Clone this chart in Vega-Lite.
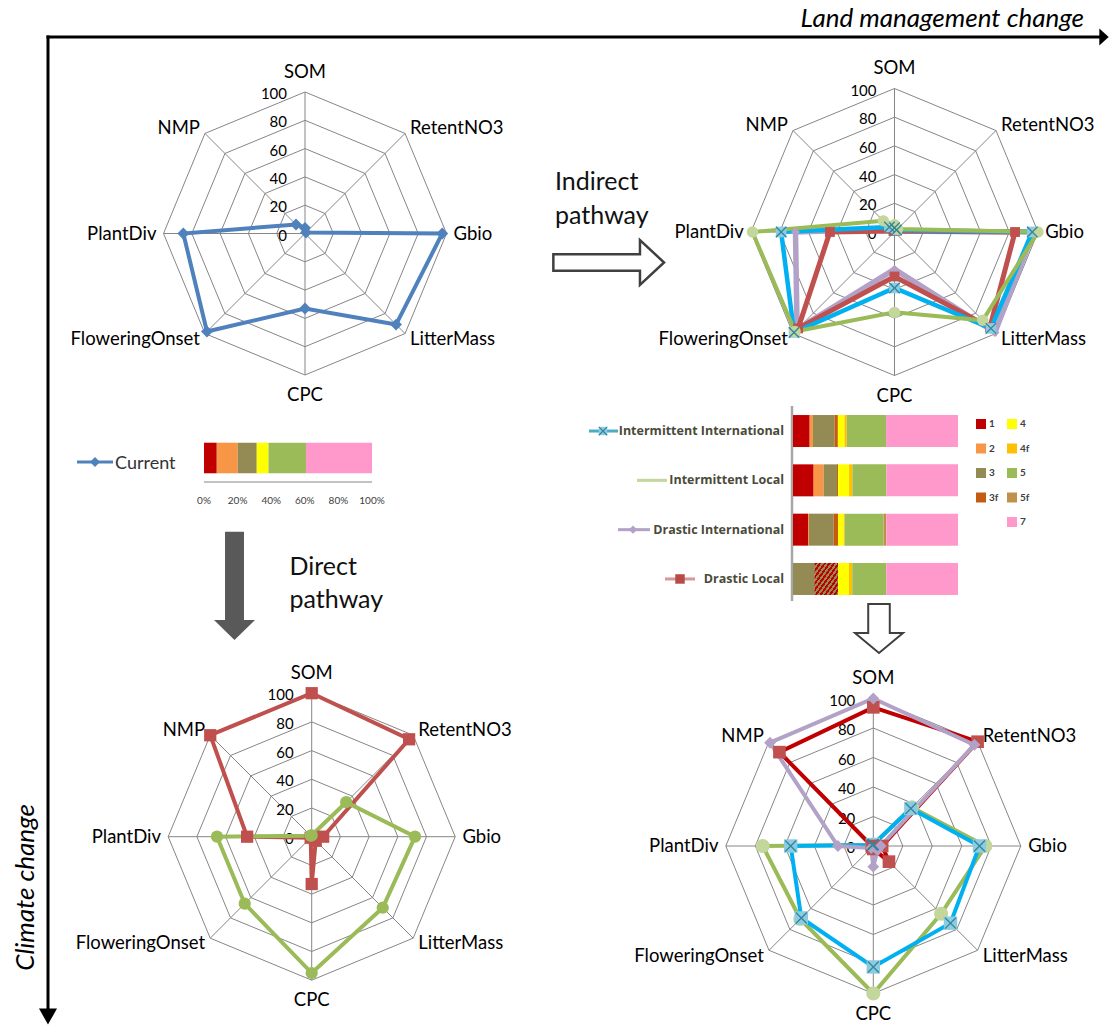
{
"$schema": "https://vega.github.io/schema/vega-lite/v6.json",
"width": 1110, "height": 1026,
"padding": 0,
"autosize": {"type": "none"},
"background": "white",
"config": {"view": {"stroke": null}, "font": "Lato"},
"datasets": {
"axes": [{"axis":"SOM"},{"axis":"RetentNO3"},{"axis":"Gbio"},{"axis":"LitterMass"},{"axis":"CPC"},{"axis":"FloweringOnset"},{"axis":"PlantDiv"},{"axis":"NMP"}],
"grid": [{"ring":[20,40,60,80,100],"axis":["SOM","RetentNO3","Gbio","LitterMass","CPC","FloweringOnset","PlantDiv","NMP"]}],
"ticks": [{"tick":0},{"tick":20},{"tick":40},{"tick":60},{"tick":80},{"tick":100}],
"curTicks": [{"t":0},{"t":0.2},{"t":0.4},{"t":0.6},{"t":0.8},{"t":1}],
"seriesNames": [{"series":"Intermittent International"},{"series":"Intermittent Local"},{"series":"Drastic International"},{"series":"Drastic Local"}],
"current": [
{"series":"Current","cat":"1","pct":7.6},{"series":"Current","cat":"2","pct":12.5},{"series":"Current","cat":"3","pct":11.3},{"series":"Current","cat":"4","pct":7.0},{"series":"Current","cat":"5","pct":22.3},{"series":"Current","cat":"7","pct":39.3}],
"bars": [
{"series":"Intermittent International","cat":"1","pct":10.1},{"series":"Intermittent International","cat":"2","pct":2.0},{"series":"Intermittent International","cat":"3","pct":13.1},{"series":"Intermittent International","cat":"3f","pct":2.0},{"series":"Intermittent International","cat":"4","pct":4.0},{"series":"Intermittent International","cat":"4f","pct":1.4},{"series":"Intermittent International","cat":"5","pct":23.8},{"series":"Intermittent International","cat":"7","pct":43.6},
{"series":"Intermittent Local","cat":"1","pct":12.5},{"series":"Intermittent Local","cat":"2","pct":6.1},{"series":"Intermittent Local","cat":"3","pct":8.1},{"series":"Intermittent Local","cat":"3f","pct":0.6},{"series":"Intermittent Local","cat":"4","pct":6.7},{"series":"Intermittent Local","cat":"4f","pct":2.0},{"series":"Intermittent Local","cat":"5","pct":20.6},{"series":"Intermittent Local","cat":"7","pct":43.4},
{"series":"Drastic International","cat":"1","pct":9.1},{"series":"Drastic International","cat":"2","pct":0.6},{"series":"Drastic International","cat":"3","pct":15.0},{"series":"Drastic International","cat":"3f","pct":2.6},{"series":"Drastic International","cat":"4","pct":3.4},{"series":"Drastic International","cat":"4f","pct":0.6},{"series":"Drastic International","cat":"5","pct":23.6},{"series":"Drastic International","cat":"5f","pct":1.6},{"series":"Drastic International","cat":"7","pct":43.5},
{"series":"Drastic Local","cat":"3","pct":13.1},{"series":"Drastic Local","cat":"hatch","pct":14.1},{"series":"Drastic Local","cat":"4","pct":6.7},{"series":"Drastic Local","cat":"4f","pct":2.0},{"series":"Drastic Local","cat":"5","pct":20.6},{"series":"Drastic Local","cat":"7","pct":43.5}],
"radar": [
{"panel":"TL","series":"Current","axis":"SOM","value":4},{"panel":"TL","series":"Current","axis":"RetentNO3","value":1},{"panel":"TL","series":"Current","axis":"Gbio","value":97},{"panel":"TL","series":"Current","axis":"LitterMass","value":91},{"panel":"TL","series":"Current","axis":"CPC","value":53},{"panel":"TL","series":"Current","axis":"FloweringOnset","value":98},{"panel":"TL","series":"Current","axis":"PlantDiv","value":86},{"panel":"TL","series":"Current","axis":"NMP","value":9},
{"panel":"TR","series":"Drastic International","axis":"SOM","value":2},{"panel":"TR","series":"Drastic International","axis":"RetentNO3","value":1},{"panel":"TR","series":"Drastic International","axis":"Gbio","value":97},{"panel":"TR","series":"Drastic International","axis":"LitterMass","value":99},{"panel":"TR","series":"Drastic International","axis":"CPC","value":26},{"panel":"TR","series":"Drastic International","axis":"FloweringOnset","value":96},{"panel":"TR","series":"Drastic International","axis":"PlantDiv","value":69},{"panel":"TR","series":"Drastic International","axis":"NMP","value":3},
{"panel":"TR","series":"Drastic Local","axis":"SOM","value":2},{"panel":"TR","series":"Drastic Local","axis":"RetentNO3","value":1},{"panel":"TR","series":"Drastic Local","axis":"Gbio","value":84},{"panel":"TR","series":"Drastic Local","axis":"LitterMass","value":94},{"panel":"TR","series":"Drastic Local","axis":"CPC","value":31},{"panel":"TR","series":"Drastic Local","axis":"FloweringOnset","value":95},{"panel":"TR","series":"Drastic Local","axis":"PlantDiv","value":45},{"panel":"TR","series":"Drastic Local","axis":"NMP","value":1},
{"panel":"TR","series":"Intermittent International","axis":"SOM","value":3},{"panel":"TR","series":"Intermittent International","axis":"RetentNO3","value":2},{"panel":"TR","series":"Intermittent International","axis":"Gbio","value":96},{"panel":"TR","series":"Intermittent International","axis":"LitterMass","value":95},{"panel":"TR","series":"Intermittent International","axis":"CPC","value":39},{"panel":"TR","series":"Intermittent International","axis":"FloweringOnset","value":99},{"panel":"TR","series":"Intermittent International","axis":"PlantDiv","value":79},{"panel":"TR","series":"Intermittent International","axis":"NMP","value":5},
{"panel":"TR","series":"Intermittent Local","axis":"SOM","value":5},{"panel":"TR","series":"Intermittent Local","axis":"RetentNO3","value":3},{"panel":"TR","series":"Intermittent Local","axis":"Gbio","value":100},{"panel":"TR","series":"Intermittent Local","axis":"LitterMass","value":87},{"panel":"TR","series":"Intermittent Local","axis":"CPC","value":56},{"panel":"TR","series":"Intermittent Local","axis":"FloweringOnset","value":98},{"panel":"TR","series":"Intermittent Local","axis":"PlantDiv","value":99},{"panel":"TR","series":"Intermittent Local","axis":"NMP","value":11},
{"panel":"BL","series":"Scenario 1","axis":"SOM","value":100},{"panel":"BL","series":"Scenario 1","axis":"RetentNO3","value":96},{"panel":"BL","series":"Scenario 1","axis":"Gbio","value":8},{"panel":"BL","series":"Scenario 1","axis":"LitterMass","value":4},{"panel":"BL","series":"Scenario 1","axis":"CPC","value":33},{"panel":"BL","series":"Scenario 1","axis":"FloweringOnset","value":1},{"panel":"BL","series":"Scenario 1","axis":"PlantDiv","value":45},{"panel":"BL","series":"Scenario 1","axis":"NMP","value":100},
{"panel":"BL","series":"Scenario 2","axis":"SOM","value":1},{"panel":"BL","series":"Scenario 2","axis":"RetentNO3","value":34},{"panel":"BL","series":"Scenario 2","axis":"Gbio","value":72},{"panel":"BL","series":"Scenario 2","axis":"LitterMass","value":70},{"panel":"BL","series":"Scenario 2","axis":"CPC","value":95},{"panel":"BL","series":"Scenario 2","axis":"FloweringOnset","value":66},{"panel":"BL","series":"Scenario 2","axis":"PlantDiv","value":66},{"panel":"BL","series":"Scenario 2","axis":"NMP","value":1},
{"panel":"BR","series":"Intermittent Local","axis":"SOM","value":1},{"panel":"BR","series":"Intermittent Local","axis":"RetentNO3","value":37},{"panel":"BR","series":"Intermittent Local","axis":"Gbio","value":76},{"panel":"BR","series":"Intermittent Local","axis":"LitterMass","value":65},{"panel":"BR","series":"Intermittent Local","axis":"CPC","value":100},{"panel":"BR","series":"Intermittent Local","axis":"FloweringOnset","value":70},{"panel":"BR","series":"Intermittent Local","axis":"PlantDiv","value":75},{"panel":"BR","series":"Intermittent Local","axis":"NMP","value":1},
{"panel":"BR","series":"Intermittent International","axis":"SOM","value":1},{"panel":"BR","series":"Intermittent International","axis":"RetentNO3","value":36},{"panel":"BR","series":"Intermittent International","axis":"Gbio","value":72},{"panel":"BR","series":"Intermittent International","axis":"LitterMass","value":74},{"panel":"BR","series":"Intermittent International","axis":"CPC","value":82},{"panel":"BR","series":"Intermittent International","axis":"FloweringOnset","value":69},{"panel":"BR","series":"Intermittent International","axis":"PlantDiv","value":56},{"panel":"BR","series":"Intermittent International","axis":"NMP","value":1},
{"panel":"BR","series":"Drastic Local","axis":"SOM","value":94},{"panel":"BR","series":"Drastic Local","axis":"RetentNO3","value":100},{"panel":"BR","series":"Drastic Local","axis":"Gbio","value":6},{"panel":"BR","series":"Drastic Local","axis":"LitterMass","value":15},{"panel":"BR","series":"Drastic Local","axis":"CPC","value":2},{"panel":"BR","series":"Drastic Local","axis":"FloweringOnset","value":1},{"panel":"BR","series":"Drastic Local","axis":"PlantDiv","value":1},{"panel":"BR","series":"Drastic Local","axis":"NMP","value":90},
{"panel":"BR","series":"Drastic International","axis":"SOM","value":100},{"panel":"BR","series":"Drastic International","axis":"RetentNO3","value":97},{"panel":"BR","series":"Drastic International","axis":"Gbio","value":5},{"panel":"BR","series":"Drastic International","axis":"LitterMass","value":4},{"panel":"BR","series":"Drastic International","axis":"CPC","value":14},{"panel":"BR","series":"Drastic International","axis":"FloweringOnset","value":2},{"panel":"BR","series":"Drastic International","axis":"PlantDiv","value":24},{"panel":"BR","series":"Drastic International","axis":"NMP","value":99}
]
},
"resolve": {"scale": {"x": "independent", "y": "independent", "color": "independent", "fill": "independent", "stroke": "independent", "strokeWidth": "independent", "shape": "independent", "size": "independent"}},
"layer": [
{
"data": {"values": [{}]},
"layer": [
{"mark": {"type": "rule", "color": "#000000", "strokeWidth": 3},
 "encoding": {"x": {"datum": 46.5, "scale": {"domain": [0, 1110], "range": [0, 1110], "nice": false, "zero": false}, "axis": null}, "x2": {"datum": 1100},
   "y": {"datum": 37, "scale": {"domain": [0, 1026], "range": [0, 1026], "nice": false, "zero": false}, "axis": null}}},
{"mark": {"type": "rule", "color": "#000000", "strokeWidth": 3},
 "encoding": {"x": {"datum": 48}, "y": {"datum": 35.5}, "y2": {"datum": 1010}}},
{"mark": {"type": "point", "shape": "M-0.55,-1L0.55,0L-0.55,1Z", "filled": true, "color": "#000000", "size": 289, "opacity": 1},
 "encoding": {"x": {"datum": 1104}, "y": {"datum": 37}}},
{"mark": {"type": "point", "shape": "M-1,-0.9L1,-0.9L0,0.9Z", "filled": true, "color": "#000000", "size": 324, "opacity": 1},
 "encoding": {"x": {"datum": 48}, "y": {"datum": 1016.5}}},
{"mark": {"type": "text", "align": "right", "baseline": "alphabetic", "font": "Lato", "fontStyle": "italic", "fontSize": 26, "color": "#000000"},
 "encoding": {"x": {"datum": 1084}, "y": {"datum": 27}, "text": {"value": "Land management change"}}},
{"mark": {"type": "text", "angle": 270, "align": "center", "baseline": "alphabetic", "font": "Lato", "fontStyle": "italic", "fontSize": 26, "color": "#000000"},
 "encoding": {"x": {"datum": 33.5}, "y": {"datum": 887.5}, "text": {"value": "Climate change"}}},
{"mark": {"type": "point", "shape": "M-1,-0.15L0.565,-0.15L0.565,-0.406L1,0L0.565,0.406L0.565,0.15L-1,0.15Z", "filled": false, "color": "#404040", "strokeWidth": 2.5, "size": 12254, "opacity": 1},
 "encoding": {"x": {"datum": 608.7}, "y": {"datum": 262.5}}},
{"mark": {"type": "text", "align": "left", "baseline": "alphabetic", "font": "Lato", "fontSize": 25, "color": "#111111"},
 "encoding": {"x": {"datum": 555}, "y": {"datum": 190}, "text": {"value": "Indirect"}}},
{"mark": {"type": "text", "align": "left", "baseline": "alphabetic", "font": "Lato", "fontSize": 25, "color": "#111111"},
 "encoding": {"x": {"datum": 555}, "y": {"datum": 224}, "text": {"value": "pathway"}}},
{"mark": {"type": "rule", "color": "#4F81BD", "strokeWidth": 3},
 "encoding": {"x": {"datum": 77}, "x2": {"datum": 113}, "y": {"datum": 462}}},
{"mark": {"type": "point", "shape": "diamond", "filled": true, "color": "#4F81BD", "size": 100, "opacity": 1},
 "encoding": {"x": {"datum": 95}, "y": {"datum": 462}}},
{"mark": {"type": "text", "align": "left", "baseline": "alphabetic", "font": "Lato", "fontSize": 18, "color": "#333333"},
 "encoding": {"x": {"datum": 115}, "y": {"datum": 468.5}, "text": {"value": "Current"}}},
{"mark": {"type": "point", "shape": "M-0.175,-1L0.175,-1L0.175,0.631L0.379,0.631L0,1L-0.379,0.631L-0.175,0.631Z", "filled": true, "color": "#595959", "size": 11729, "opacity": 1, "strokeWidth": 0},
 "encoding": {"x": {"datum": 234.5}, "y": {"datum": 585.85}}},
{"mark": {"type": "text", "align": "left", "baseline": "alphabetic", "font": "Lato", "fontSize": 25, "color": "#111111"},
 "encoding": {"x": {"datum": 289.5}, "y": {"datum": 575}, "text": {"value": "Direct"}}},
{"mark": {"type": "text", "align": "left", "baseline": "alphabetic", "font": "Lato", "fontSize": 25, "color": "#111111"},
 "encoding": {"x": {"datum": 289.5}, "y": {"datum": 607.5}, "text": {"value": "pathway"}}},
{"mark": {"type": "rule", "color": "#A6A6A6", "strokeWidth": 2.5},
 "encoding": {"x": {"datum": 792}, "y": {"datum": 406}, "y2": {"datum": 601}}},
{"mark": {"type": "point", "shape": "M-0.44,-1L0.44,-1L0.44,0.18L0.98,0.18L0,1L-0.98,0.18L-0.44,0.18Z", "filled": false, "color": "#404040", "strokeWidth": 2, "size": 2401, "opacity": 1},
 "encoding": {"x": {"datum": 879}, "y": {"datum": 628.5}}}
]
},
{
"layer": [
{"data": {"name": "grid"},
 "transform": [{"flatten": ["ring"]}, {"flatten": ["axis"]}, {"calculate": "indexof(['SOM','RetentNO3','Gbio','LitterMass','CPC','FloweringOnset','PlantDiv','NMP'], datum.axis)", "as": "idx"}, {"calculate": "datum.ring*sin(datum.idx*PI/4)", "as": "px"}, {"calculate": "datum.ring*cos(datum.idx*PI/4)", "as": "py"}],
 "mark": {"type": "line", "interpolate": "linear-closed", "color": "#868686", "strokeWidth": 1},
 "encoding": {"x": {"field": "px", "type": "quantitative", "scale": {"domain": [-100, 100], "range": [163.5, 446.5], "nice": false, "zero": false}, "axis": null},
   "y": {"field": "py", "type": "quantitative", "scale": {"domain": [-100, 100], "range": [375, 92], "nice": false, "zero": false}, "axis": null},
   "detail": {"field": "ring", "type": "nominal"}, "order": {"field": "idx", "type": "quantitative"}}},
{"data": {"name": "axes"},
 "transform": [{"calculate": "indexof(['SOM','RetentNO3','Gbio','LitterMass','CPC','FloweringOnset','PlantDiv','NMP'], datum.axis)", "as": "idx"}, {"calculate": "100*sin(datum.idx*PI/4)", "as": "px"}, {"calculate": "100*cos(datum.idx*PI/4)", "as": "py"}],
 "mark": {"type": "rule", "color": "#868686", "strokeWidth": 1},
 "encoding": {"x": {"field": "px", "type": "quantitative"}, "y": {"field": "py", "type": "quantitative"}, "x2": {"datum": 0}, "y2": {"datum": 0}}},
{"data": {"name": "ticks"},
 "mark": {"type": "text", "align": "right", "baseline": "middle", "dx": -18, "dy": 2, "font": "Lato", "fontSize": 15, "color": "#000000"},
 "encoding": {"x": {"datum": 0}, "y": {"field": "tick", "type": "quantitative"}, "text": {"field": "tick", "type": "quantitative"}}},
{"data": {"name": "axes"},
 "transform": [{"calculate": "indexof(['SOM','RetentNO3','Gbio','LitterMass','CPC','FloweringOnset','PlantDiv','NMP'], datum.axis)", "as": "idx"}, {"filter": "datum.idx == 0 || datum.idx == 4"}, {"calculate": "114*sin(datum.idx*PI/4)", "as": "lx"}, {"calculate": "114*cos(datum.idx*PI/4)", "as": "ly"}],
 "mark": {"type": "text", "align": "center", "baseline": "middle", "font": "Lato", "fontSize": 18.5, "color": "#000000"},
 "encoding": {"x": {"field": "lx", "type": "quantitative"}, "y": {"field": "ly", "type": "quantitative"}, "text": {"field": "axis", "type": "nominal"}}},
{"data": {"name": "axes"},
 "transform": [{"calculate": "indexof(['SOM','RetentNO3','Gbio','LitterMass','CPC','FloweringOnset','PlantDiv','NMP'], datum.axis)", "as": "idx"}, {"filter": "datum.idx >= 1 && datum.idx <= 3"}, {"calculate": "105*sin(datum.idx*PI/4)", "as": "lx"}, {"calculate": "105*cos(datum.idx*PI/4)", "as": "ly"}],
 "mark": {"type": "text", "align": "left", "baseline": "middle", "font": "Lato", "fontSize": 18.5, "color": "#000000"},
 "encoding": {"x": {"field": "lx", "type": "quantitative"}, "y": {"field": "ly", "type": "quantitative"}, "text": {"field": "axis", "type": "nominal"}}},
{"data": {"name": "axes"},
 "transform": [{"calculate": "indexof(['SOM','RetentNO3','Gbio','LitterMass','CPC','FloweringOnset','PlantDiv','NMP'], datum.axis)", "as": "idx"}, {"filter": "datum.idx >= 5"}, {"calculate": "105*sin(datum.idx*PI/4)", "as": "lx"}, {"calculate": "105*cos(datum.idx*PI/4)", "as": "ly"}],
 "mark": {"type": "text", "align": "right", "baseline": "middle", "font": "Lato", "fontSize": 18.5, "color": "#000000"},
 "encoding": {"x": {"field": "lx", "type": "quantitative"}, "y": {"field": "ly", "type": "quantitative"}, "text": {"field": "axis", "type": "nominal"}}},
{"data": {"name": "radar"},
 "transform": [{"filter": "datum.panel == 'TL'"}, {"calculate": "indexof(['SOM','RetentNO3','Gbio','LitterMass','CPC','FloweringOnset','PlantDiv','NMP'], datum.axis)", "as": "idx"}, {"calculate": "datum.value*sin(datum.idx*PI/4)", "as": "px"}, {"calculate": "datum.value*cos(datum.idx*PI/4)", "as": "py"}],
 "mark": {"type": "line", "interpolate": "linear-closed", "strokeWidth": 4, "color": "#4F81BD"},
 "encoding": {"x": {"field": "px", "type": "quantitative"}, "y": {"field": "py", "type": "quantitative"},
   "detail": {"field": "series", "type": "nominal"},
   "order": {"field": "idx", "type": "quantitative"}}},
{"data": {"name": "radar"},
 "transform": [{"filter": "datum.panel == 'TL'"}, {"calculate": "indexof(['SOM','RetentNO3','Gbio','LitterMass','CPC','FloweringOnset','PlantDiv','NMP'], datum.axis)", "as": "idx"}, {"calculate": "datum.value*sin(datum.idx*PI/4)", "as": "px"}, {"calculate": "datum.value*cos(datum.idx*PI/4)", "as": "py"}],
 "mark": {"type": "point", "shape": "diamond", "filled": true, "size": 140, "opacity": 1, "color": "#4F81BD"},
 "encoding": {"x": {"field": "px", "type": "quantitative"}, "y": {"field": "py", "type": "quantitative"}}}
]
},
{
"layer": [
{"data": {"name": "grid"},
 "transform": [{"flatten": ["ring"]}, {"flatten": ["axis"]}, {"calculate": "indexof(['SOM','RetentNO3','Gbio','LitterMass','CPC','FloweringOnset','PlantDiv','NMP'], datum.axis)", "as": "idx"}, {"calculate": "datum.ring*sin(datum.idx*PI/4)", "as": "px"}, {"calculate": "datum.ring*cos(datum.idx*PI/4)", "as": "py"}],
 "mark": {"type": "line", "interpolate": "linear-closed", "color": "#868686", "strokeWidth": 1},
 "encoding": {"x": {"field": "px", "type": "quantitative", "scale": {"domain": [-100, 100], "range": [751, 1038], "nice": false, "zero": false}, "axis": null},
   "y": {"field": "py", "type": "quantitative", "scale": {"domain": [-100, 100], "range": [375.5, 88.5], "nice": false, "zero": false}, "axis": null},
   "detail": {"field": "ring", "type": "nominal"}, "order": {"field": "idx", "type": "quantitative"}}},
{"data": {"name": "axes"},
 "transform": [{"calculate": "indexof(['SOM','RetentNO3','Gbio','LitterMass','CPC','FloweringOnset','PlantDiv','NMP'], datum.axis)", "as": "idx"}, {"calculate": "100*sin(datum.idx*PI/4)", "as": "px"}, {"calculate": "100*cos(datum.idx*PI/4)", "as": "py"}],
 "mark": {"type": "rule", "color": "#868686", "strokeWidth": 1},
 "encoding": {"x": {"field": "px", "type": "quantitative"}, "y": {"field": "py", "type": "quantitative"}, "x2": {"datum": 0}, "y2": {"datum": 0}}},
{"data": {"name": "ticks"},
 "mark": {"type": "text", "align": "right", "baseline": "middle", "dx": -18, "dy": 2, "font": "Lato", "fontSize": 15, "color": "#000000"},
 "encoding": {"x": {"datum": 0}, "y": {"field": "tick", "type": "quantitative"}, "text": {"field": "tick", "type": "quantitative"}}},
{"data": {"name": "axes"},
 "transform": [{"calculate": "indexof(['SOM','RetentNO3','Gbio','LitterMass','CPC','FloweringOnset','PlantDiv','NMP'], datum.axis)", "as": "idx"}, {"filter": "datum.idx == 0 || datum.idx == 4"}, {"calculate": "114*sin(datum.idx*PI/4)", "as": "lx"}, {"calculate": "114*cos(datum.idx*PI/4)", "as": "ly"}],
 "mark": {"type": "text", "align": "center", "baseline": "middle", "font": "Lato", "fontSize": 18.5, "color": "#000000"},
 "encoding": {"x": {"field": "lx", "type": "quantitative"}, "y": {"field": "ly", "type": "quantitative"}, "text": {"field": "axis", "type": "nominal"}}},
{"data": {"name": "axes"},
 "transform": [{"calculate": "indexof(['SOM','RetentNO3','Gbio','LitterMass','CPC','FloweringOnset','PlantDiv','NMP'], datum.axis)", "as": "idx"}, {"filter": "datum.idx >= 1 && datum.idx <= 3"}, {"calculate": "105*sin(datum.idx*PI/4)", "as": "lx"}, {"calculate": "105*cos(datum.idx*PI/4)", "as": "ly"}],
 "mark": {"type": "text", "align": "left", "baseline": "middle", "font": "Lato", "fontSize": 18.5, "color": "#000000"},
 "encoding": {"x": {"field": "lx", "type": "quantitative"}, "y": {"field": "ly", "type": "quantitative"}, "text": {"field": "axis", "type": "nominal"}}},
{"data": {"name": "axes"},
 "transform": [{"calculate": "indexof(['SOM','RetentNO3','Gbio','LitterMass','CPC','FloweringOnset','PlantDiv','NMP'], datum.axis)", "as": "idx"}, {"filter": "datum.idx >= 5"}, {"calculate": "105*sin(datum.idx*PI/4)", "as": "lx"}, {"calculate": "105*cos(datum.idx*PI/4)", "as": "ly"}],
 "mark": {"type": "text", "align": "right", "baseline": "middle", "font": "Lato", "fontSize": 18.5, "color": "#000000"},
 "encoding": {"x": {"field": "lx", "type": "quantitative"}, "y": {"field": "ly", "type": "quantitative"}, "text": {"field": "axis", "type": "nominal"}}},
{"data": {"name": "radar"},
 "transform": [{"filter": "datum.panel == 'TR'"}, {"calculate": "indexof(['SOM','RetentNO3','Gbio','LitterMass','CPC','FloweringOnset','PlantDiv','NMP'], datum.axis)", "as": "idx"}, {"calculate": "datum.value*sin(datum.idx*PI/4)", "as": "px"}, {"calculate": "datum.value*cos(datum.idx*PI/4)", "as": "py"}],
 "mark": {"type": "line", "interpolate": "linear-closed"},
 "encoding": {"x": {"field": "px", "type": "quantitative"}, "y": {"field": "py", "type": "quantitative"},
   "stroke": {"field": "series", "type": "nominal", "scale": {"domain": ["Drastic International", "Drastic Local", "Intermittent International", "Intermittent Local"], "range": ["#B3A2C7", "#C0504D", "#00B0F0", "#9BBB59"]}, "legend": null},
   "strokeWidth": {"field": "series", "type": "nominal", "scale": {"domain": ["Drastic International", "Drastic Local", "Intermittent International", "Intermittent Local"], "range": [5.5, 4, 4, 4]}, "legend": null},
   "order": {"field": "idx", "type": "quantitative"}}},
{"data": {"name": "radar"},
 "transform": [{"filter": "datum.panel == 'TR'"}, {"calculate": "indexof(['SOM','RetentNO3','Gbio','LitterMass','CPC','FloweringOnset','PlantDiv','NMP'], datum.axis)", "as": "idx"}, {"calculate": "datum.value*sin(datum.idx*PI/4)", "as": "px"}, {"calculate": "datum.value*cos(datum.idx*PI/4)", "as": "py"}],
 "mark": {"type": "point", "filled": true, "opacity": 1, "strokeWidth": 0},
 "encoding": {"x": {"field": "px", "type": "quantitative"}, "y": {"field": "py", "type": "quantitative"},
   "fill": {"field": "series", "type": "nominal", "scale": {"domain": ["Drastic International", "Drastic Local", "Intermittent International", "Intermittent Local"], "range": ["#B3A2C7", "#C0504D", "#8DCBE0", "#C3D69B"]}, "legend": null},
   "shape": {"field": "series", "type": "nominal", "scale": {"domain": ["Drastic International", "Drastic Local", "Intermittent International", "Intermittent Local"], "range": ["diamond", "square", "square", "circle"]}, "legend": null},
   "size": {"field": "series", "type": "nominal", "scale": {"domain": ["Drastic International", "Drastic Local", "Intermittent International", "Intermittent Local"], "range": [80, 130, 130, 200]}, "legend": null}}},
{"data": {"name": "radar"},
 "transform": [{"filter": "datum.panel == 'TR' && datum.series == 'Intermittent International'"}, {"calculate": "indexof(['SOM','RetentNO3','Gbio','LitterMass','CPC','FloweringOnset','PlantDiv','NMP'], datum.axis)", "as": "idx"}, {"calculate": "datum.value*sin(datum.idx*PI/4)", "as": "px"}, {"calculate": "datum.value*cos(datum.idx*PI/4)", "as": "py"}],
 "mark": {"type": "point", "shape": "M-1,-1L1,1M-1,1L1,-1", "filled": false, "color": "#31859C", "strokeWidth": 1.3, "size": 110, "opacity": 1},
 "encoding": {"x": {"field": "px", "type": "quantitative"}, "y": {"field": "py", "type": "quantitative"}}}
]
},
{
"layer": [
{"data": {"name": "grid"},
 "transform": [{"flatten": ["ring"]}, {"flatten": ["axis"]}, {"calculate": "indexof(['SOM','RetentNO3','Gbio','LitterMass','CPC','FloweringOnset','PlantDiv','NMP'], datum.axis)", "as": "idx"}, {"calculate": "datum.ring*sin(datum.idx*PI/4)", "as": "px"}, {"calculate": "datum.ring*cos(datum.idx*PI/4)", "as": "py"}],
 "mark": {"type": "line", "interpolate": "linear-closed", "color": "#868686", "strokeWidth": 1},
 "encoding": {"x": {"field": "px", "type": "quantitative", "scale": {"domain": [-100, 100], "range": [168.2, 455.2], "nice": false, "zero": false}, "axis": null},
   "y": {"field": "py", "type": "quantitative", "scale": {"domain": [-100, 100], "range": [980.2, 693.2], "nice": false, "zero": false}, "axis": null},
   "detail": {"field": "ring", "type": "nominal"}, "order": {"field": "idx", "type": "quantitative"}}},
{"data": {"name": "axes"},
 "transform": [{"calculate": "indexof(['SOM','RetentNO3','Gbio','LitterMass','CPC','FloweringOnset','PlantDiv','NMP'], datum.axis)", "as": "idx"}, {"calculate": "100*sin(datum.idx*PI/4)", "as": "px"}, {"calculate": "100*cos(datum.idx*PI/4)", "as": "py"}],
 "mark": {"type": "rule", "color": "#868686", "strokeWidth": 1},
 "encoding": {"x": {"field": "px", "type": "quantitative"}, "y": {"field": "py", "type": "quantitative"}, "x2": {"datum": 0}, "y2": {"datum": 0}}},
{"data": {"name": "ticks"},
 "mark": {"type": "text", "align": "right", "baseline": "middle", "dx": -18, "dy": 2, "font": "Lato", "fontSize": 15, "color": "#000000"},
 "encoding": {"x": {"datum": 0}, "y": {"field": "tick", "type": "quantitative"}, "text": {"field": "tick", "type": "quantitative"}}},
{"data": {"name": "axes"},
 "transform": [{"calculate": "indexof(['SOM','RetentNO3','Gbio','LitterMass','CPC','FloweringOnset','PlantDiv','NMP'], datum.axis)", "as": "idx"}, {"filter": "datum.idx == 0 || datum.idx == 4"}, {"calculate": "114*sin(datum.idx*PI/4)", "as": "lx"}, {"calculate": "114*cos(datum.idx*PI/4)", "as": "ly"}],
 "mark": {"type": "text", "align": "center", "baseline": "middle", "font": "Lato", "fontSize": 18.5, "color": "#000000"},
 "encoding": {"x": {"field": "lx", "type": "quantitative"}, "y": {"field": "ly", "type": "quantitative"}, "text": {"field": "axis", "type": "nominal"}}},
{"data": {"name": "axes"},
 "transform": [{"calculate": "indexof(['SOM','RetentNO3','Gbio','LitterMass','CPC','FloweringOnset','PlantDiv','NMP'], datum.axis)", "as": "idx"}, {"filter": "datum.idx >= 1 && datum.idx <= 3"}, {"calculate": "105*sin(datum.idx*PI/4)", "as": "lx"}, {"calculate": "105*cos(datum.idx*PI/4)", "as": "ly"}],
 "mark": {"type": "text", "align": "left", "baseline": "middle", "font": "Lato", "fontSize": 18.5, "color": "#000000"},
 "encoding": {"x": {"field": "lx", "type": "quantitative"}, "y": {"field": "ly", "type": "quantitative"}, "text": {"field": "axis", "type": "nominal"}}},
{"data": {"name": "axes"},
 "transform": [{"calculate": "indexof(['SOM','RetentNO3','Gbio','LitterMass','CPC','FloweringOnset','PlantDiv','NMP'], datum.axis)", "as": "idx"}, {"filter": "datum.idx >= 5"}, {"calculate": "105*sin(datum.idx*PI/4)", "as": "lx"}, {"calculate": "105*cos(datum.idx*PI/4)", "as": "ly"}],
 "mark": {"type": "text", "align": "right", "baseline": "middle", "font": "Lato", "fontSize": 18.5, "color": "#000000"},
 "encoding": {"x": {"field": "lx", "type": "quantitative"}, "y": {"field": "ly", "type": "quantitative"}, "text": {"field": "axis", "type": "nominal"}}},
{"data": {"name": "radar"},
 "transform": [{"filter": "datum.panel == 'BL'"}, {"calculate": "indexof(['SOM','RetentNO3','Gbio','LitterMass','CPC','FloweringOnset','PlantDiv','NMP'], datum.axis)", "as": "idx"}, {"calculate": "datum.value*sin(datum.idx*PI/4)", "as": "px"}, {"calculate": "datum.value*cos(datum.idx*PI/4)", "as": "py"}],
 "mark": {"type": "line", "interpolate": "linear-closed", "strokeWidth": 4},
 "encoding": {"x": {"field": "px", "type": "quantitative"}, "y": {"field": "py", "type": "quantitative"},
   "stroke": {"field": "series", "type": "nominal", "scale": {"domain": ["Scenario 1", "Scenario 2"], "range": ["#C0504D", "#9BBB59"]}, "legend": null},
   "order": {"field": "idx", "type": "quantitative"}}},
{"data": {"name": "radar"},
 "transform": [{"filter": "datum.panel == 'BL'"}, {"calculate": "indexof(['SOM','RetentNO3','Gbio','LitterMass','CPC','FloweringOnset','PlantDiv','NMP'], datum.axis)", "as": "idx"}, {"calculate": "datum.value*sin(datum.idx*PI/4)", "as": "px"}, {"calculate": "datum.value*cos(datum.idx*PI/4)", "as": "py"}],
 "mark": {"type": "point", "filled": true, "opacity": 1, "strokeWidth": 0, "size": 150},
 "encoding": {"x": {"field": "px", "type": "quantitative"}, "y": {"field": "py", "type": "quantitative"},
   "fill": {"field": "series", "type": "nominal", "scale": {"domain": ["Scenario 1", "Scenario 2"], "range": ["#C0504D", "#9BBB59"]}, "legend": null},
   "shape": {"field": "series", "type": "nominal", "scale": {"domain": ["Scenario 1", "Scenario 2"], "range": ["square", "circle"]}, "legend": null}}}
]
},
{
"layer": [
{"data": {"name": "grid"},
 "transform": [{"flatten": ["ring"]}, {"flatten": ["axis"]}, {"calculate": "indexof(['SOM','RetentNO3','Gbio','LitterMass','CPC','FloweringOnset','PlantDiv','NMP'], datum.axis)", "as": "idx"}, {"calculate": "datum.ring*sin(datum.idx*PI/4)", "as": "px"}, {"calculate": "datum.ring*cos(datum.idx*PI/4)", "as": "py"}],
 "mark": {"type": "line", "interpolate": "linear-closed", "color": "#868686", "strokeWidth": 1},
 "encoding": {"x": {"field": "px", "type": "quantitative", "scale": {"domain": [-100, 100], "range": [725.8, 1020.8], "nice": false, "zero": false}, "axis": null},
   "y": {"field": "py", "type": "quantitative", "scale": {"domain": [-100, 100], "range": [993.5, 698.5], "nice": false, "zero": false}, "axis": null},
   "detail": {"field": "ring", "type": "nominal"}, "order": {"field": "idx", "type": "quantitative"}}},
{"data": {"name": "axes"},
 "transform": [{"calculate": "indexof(['SOM','RetentNO3','Gbio','LitterMass','CPC','FloweringOnset','PlantDiv','NMP'], datum.axis)", "as": "idx"}, {"calculate": "100*sin(datum.idx*PI/4)", "as": "px"}, {"calculate": "100*cos(datum.idx*PI/4)", "as": "py"}],
 "mark": {"type": "rule", "color": "#868686", "strokeWidth": 1},
 "encoding": {"x": {"field": "px", "type": "quantitative"}, "y": {"field": "py", "type": "quantitative"}, "x2": {"datum": 0}, "y2": {"datum": 0}}},
{"data": {"name": "ticks"},
 "mark": {"type": "text", "align": "right", "baseline": "middle", "dx": -18, "dy": 2, "font": "Lato", "fontSize": 15, "color": "#000000"},
 "encoding": {"x": {"datum": 0}, "y": {"field": "tick", "type": "quantitative"}, "text": {"field": "tick", "type": "quantitative"}}},
{"data": {"name": "axes"},
 "transform": [{"calculate": "indexof(['SOM','RetentNO3','Gbio','LitterMass','CPC','FloweringOnset','PlantDiv','NMP'], datum.axis)", "as": "idx"}, {"filter": "datum.idx == 0 || datum.idx == 4"}, {"calculate": "114*sin(datum.idx*PI/4)", "as": "lx"}, {"calculate": "114*cos(datum.idx*PI/4)", "as": "ly"}],
 "mark": {"type": "text", "align": "center", "baseline": "middle", "font": "Lato", "fontSize": 18.5, "color": "#000000"},
 "encoding": {"x": {"field": "lx", "type": "quantitative"}, "y": {"field": "ly", "type": "quantitative"}, "text": {"field": "axis", "type": "nominal"}}},
{"data": {"name": "axes"},
 "transform": [{"calculate": "indexof(['SOM','RetentNO3','Gbio','LitterMass','CPC','FloweringOnset','PlantDiv','NMP'], datum.axis)", "as": "idx"}, {"filter": "datum.idx >= 1 && datum.idx <= 3"}, {"calculate": "105*sin(datum.idx*PI/4)", "as": "lx"}, {"calculate": "105*cos(datum.idx*PI/4)", "as": "ly"}],
 "mark": {"type": "text", "align": "left", "baseline": "middle", "font": "Lato", "fontSize": 18.5, "color": "#000000"},
 "encoding": {"x": {"field": "lx", "type": "quantitative"}, "y": {"field": "ly", "type": "quantitative"}, "text": {"field": "axis", "type": "nominal"}}},
{"data": {"name": "axes"},
 "transform": [{"calculate": "indexof(['SOM','RetentNO3','Gbio','LitterMass','CPC','FloweringOnset','PlantDiv','NMP'], datum.axis)", "as": "idx"}, {"filter": "datum.idx >= 5"}, {"calculate": "105*sin(datum.idx*PI/4)", "as": "lx"}, {"calculate": "105*cos(datum.idx*PI/4)", "as": "ly"}],
 "mark": {"type": "text", "align": "right", "baseline": "middle", "font": "Lato", "fontSize": 18.5, "color": "#000000"},
 "encoding": {"x": {"field": "lx", "type": "quantitative"}, "y": {"field": "ly", "type": "quantitative"}, "text": {"field": "axis", "type": "nominal"}}},
{"data": {"name": "radar"},
 "transform": [{"filter": "datum.panel == 'BR'"}, {"calculate": "indexof(['SOM','RetentNO3','Gbio','LitterMass','CPC','FloweringOnset','PlantDiv','NMP'], datum.axis)", "as": "idx"}, {"calculate": "datum.value*sin(datum.idx*PI/4)", "as": "px"}, {"calculate": "datum.value*cos(datum.idx*PI/4)", "as": "py"}],
 "mark": {"type": "line", "interpolate": "linear-closed"},
 "encoding": {"x": {"field": "px", "type": "quantitative"}, "y": {"field": "py", "type": "quantitative"},
   "stroke": {"field": "series", "type": "nominal", "scale": {"domain": ["Intermittent Local", "Intermittent International", "Drastic Local", "Drastic International"], "range": ["#9BBB59", "#00B0F0", "#C00000", "#B3A2C7"]}, "legend": null},
   "strokeWidth": {"field": "series", "type": "nominal", "scale": {"domain": ["Intermittent Local", "Intermittent International", "Drastic Local", "Drastic International"], "range": [4, 4, 4, 5.5]}, "legend": null},
   "order": {"field": "idx", "type": "quantitative"}}},
{"data": {"name": "radar"},
 "transform": [{"filter": "datum.panel == 'BR'"}, {"calculate": "indexof(['SOM','RetentNO3','Gbio','LitterMass','CPC','FloweringOnset','PlantDiv','NMP'], datum.axis)", "as": "idx"}, {"calculate": "datum.value*sin(datum.idx*PI/4)", "as": "px"}, {"calculate": "datum.value*cos(datum.idx*PI/4)", "as": "py"}],
 "mark": {"type": "point", "filled": true, "opacity": 1, "strokeWidth": 0},
 "encoding": {"x": {"field": "px", "type": "quantitative"}, "y": {"field": "py", "type": "quantitative"},
   "fill": {"field": "series", "type": "nominal", "scale": {"domain": ["Intermittent Local", "Intermittent International", "Drastic Local", "Drastic International"], "range": ["#C3D69B", "#8DCBE0", "#C0504D", "#B3A2C7"]}, "legend": null},
   "shape": {"field": "series", "type": "nominal", "scale": {"domain": ["Intermittent Local", "Intermittent International", "Drastic Local", "Drastic International"], "range": ["circle", "square", "square", "diamond"]}, "legend": null},
   "size": {"field": "series", "type": "nominal", "scale": {"domain": ["Intermittent Local", "Intermittent International", "Drastic Local", "Drastic International"], "range": [200, 140, 110, 170]}, "legend": null}}},
{"data": {"name": "radar"},
 "transform": [{"filter": "datum.panel == 'BR' && datum.series == 'Intermittent International'"}, {"calculate": "indexof(['SOM','RetentNO3','Gbio','LitterMass','CPC','FloweringOnset','PlantDiv','NMP'], datum.axis)", "as": "idx"}, {"calculate": "datum.value*sin(datum.idx*PI/4)", "as": "px"}, {"calculate": "datum.value*cos(datum.idx*PI/4)", "as": "py"}],
 "mark": {"type": "point", "shape": "M-1,-1L1,1M-1,1L1,-1", "filled": false, "color": "#31859C", "strokeWidth": 1.3, "size": 120, "opacity": 1},
 "encoding": {"x": {"field": "px", "type": "quantitative"}, "y": {"field": "py", "type": "quantitative"}}}
]
},
{
"layer": [
{"data": {"name": "current"},
 "transform": [{"calculate": "indexof(['1','2','3','hatch','3f','4','4f','5','5f','7'], datum.cat)", "as": "ord"}, {"stack": "pct", "groupby": ["series"], "sort": [{"field": "ord", "order": "ascending"}], "offset": "normalize", "as": ["v0", "v1"]}],
 "mark": {"type": "bar"},
 "encoding": {
  "x": {"field": "v0", "type": "quantitative", "scale": {"domain": [0, 1], "range": [204, 372], "nice": false, "zero": false}, "axis": null},
  "x2": {"field": "v1"},
  "y": {"datum": 442.7, "scale": {"domain": [0, 1026], "range": [0, 1026], "nice": false, "zero": false}, "axis": null},
  "y2": {"datum": 473.3},
  "color": {"field": "cat", "type": "nominal", "scale": {"domain": ["1","2","3","3f","4","4f","5","5f","7","hatch","_blank"], "range": ["#C00000","#F79646","#948A54","#C55A11","#FFFF00","#FFC000","#9BBB59","#C0914A","#FF99CC","#A8452A","rgba(255,255,255,0)"]}, "legend": null}}},
{"data": {"values": [{}]},
 "mark": {"type": "rule", "color": "#868686", "strokeWidth": 1},
 "encoding": {"x": {"datum": 0}, "x2": {"datum": 1}, "y": {"datum": 482}}},
{"data": {"name": "curTicks"},
 "mark": {"type": "text", "align": "center", "baseline": "middle", "font": "Lato", "fontSize": 10, "color": "#404040"},
 "encoding": {"x": {"field": "t", "type": "quantitative"}, "y": {"datum": 500.5}, "text": {"field": "t", "type": "quantitative", "format": ".0%"}}}
]
},
{
"layer": [
{"data": {"name": "bars"},
 "transform": [{"calculate": "indexof(['1','2','3','hatch','3f','4','4f','5','5f','7'], datum.cat)", "as": "ord"}, {"stack": "pct", "groupby": ["series"], "sort": [{"field": "ord", "order": "ascending"}], "offset": "normalize", "as": ["v0", "v1"]}],
 "mark": {"type": "bar"},
 "encoding": {
  "x": {"field": "v0", "type": "quantitative", "scale": {"domain": [0, 1], "range": [793, 958], "nice": false, "zero": false}, "axis": null},
  "x2": {"field": "v1"},
  "y": {"field": "series", "type": "nominal", "sort": null, "scale": {"domain": ["Intermittent International", "Intermittent Local", "Drastic International", "Drastic Local"], "range": [410, 600], "paddingInner": 0.351, "paddingOuter": 0.102}, "axis": null},
  "color": {"field": "cat", "type": "nominal", "scale": {"domain": ["1","2","3","3f","4","4f","5","5f","7","hatch","_blank"], "range": ["#C00000","#F79646","#948A54","#C55A11","#FFFF00","#FFC000","#9BBB59","#C0914A","#FF99CC","#A8452A","rgba(255,255,255,0)"]},
   "legend": {"title": null, "orient": "none", "legendX": 967, "legendY": 410, "padding": 9, "columns": 2, "symbolType": "square", "symbolSize": 100, "symbolStrokeWidth": 0, "labelFont": "Lato", "labelFontSize": 10, "labelFontWeight": "bold", "labelColor": "#404040", "rowPadding": 14.5, "columnPadding": 8, "labelOffset": 3, "values": ["1","2","3","3f","_blank","4","4f","5","5f","7"], "labelExpr": "datum.value == '_blank' ? '' : datum.value"}}}},
{"data": {"name": "bars"},
 "transform": [{"calculate": "indexof(['1','2','3','hatch','3f','4','4f','5','5f','7'], datum.cat)", "as": "ord"}, {"stack": "pct", "groupby": ["series"], "sort": [{"field": "ord", "order": "ascending"}], "offset": "normalize", "as": ["v0", "v1"]}, {"filter": "datum.cat == 'hatch'"}],
 "mark": {"type": "bar", "color": {"gradient": "linear", "x1": 0, "y1": 0, "x2": 1, "y2": 1, "stops": [
  {"offset": 0, "color": "#C00000"}, {"offset": 0.05, "color": "#C00000"}, {"offset": 0.05, "color": "#948A54"}, {"offset": 0.1, "color": "#948A54"},
  {"offset": 0.1, "color": "#C00000"}, {"offset": 0.15, "color": "#C00000"}, {"offset": 0.15, "color": "#948A54"}, {"offset": 0.2, "color": "#948A54"},
  {"offset": 0.2, "color": "#C00000"}, {"offset": 0.25, "color": "#C00000"}, {"offset": 0.25, "color": "#948A54"}, {"offset": 0.3, "color": "#948A54"},
  {"offset": 0.3, "color": "#C00000"}, {"offset": 0.35, "color": "#C00000"}, {"offset": 0.35, "color": "#948A54"}, {"offset": 0.4, "color": "#948A54"},
  {"offset": 0.4, "color": "#C00000"}, {"offset": 0.45, "color": "#C00000"}, {"offset": 0.45, "color": "#948A54"}, {"offset": 0.5, "color": "#948A54"},
  {"offset": 0.5, "color": "#C00000"}, {"offset": 0.55, "color": "#C00000"}, {"offset": 0.55, "color": "#948A54"}, {"offset": 0.6, "color": "#948A54"},
  {"offset": 0.6, "color": "#C00000"}, {"offset": 0.65, "color": "#C00000"}, {"offset": 0.65, "color": "#948A54"}, {"offset": 0.7, "color": "#948A54"},
  {"offset": 0.7, "color": "#C00000"}, {"offset": 0.75, "color": "#C00000"}, {"offset": 0.75, "color": "#948A54"}, {"offset": 0.8, "color": "#948A54"},
  {"offset": 0.8, "color": "#C00000"}, {"offset": 0.85, "color": "#C00000"}, {"offset": 0.85, "color": "#948A54"}, {"offset": 0.9, "color": "#948A54"},
  {"offset": 0.9, "color": "#C00000"}, {"offset": 0.95, "color": "#C00000"}, {"offset": 0.95, "color": "#948A54"}, {"offset": 1, "color": "#948A54"}]}},
 "encoding": {"x": {"field": "v0", "type": "quantitative"}, "x2": {"field": "v1"}, "y": {"field": "series", "type": "nominal", "sort": null}}},
{"data": {"name": "seriesNames"},
 "mark": {"type": "text", "align": "right", "baseline": "middle", "dx": -9, "font": "Open Sans", "fontSize": 12.5, "fontWeight": "bold", "color": "#4A4A3A"},
 "encoding": {"x": {"datum": 0}, "y": {"field": "series", "type": "nominal", "sort": null}, "text": {"field": "series", "type": "nominal"}}}
]
},
{
"data": {"name": "seriesNames"},
"layer": [
{"transform": [{"filter": "datum.series == 'Intermittent International'"}], "mark": {"type": "rule", "color": "#4BACC6", "strokeWidth": 3},
 "encoding": {"x": {"datum": 589, "scale": {"domain": [0, 1110], "range": [0, 1110], "nice": false, "zero": false}, "axis": null}, "x2": {"datum": 618},
   "y": {"field": "series", "type": "nominal", "sort": null, "scale": {"domain": ["Intermittent International", "Intermittent Local", "Drastic International", "Drastic Local"], "range": [410, 600], "paddingInner": 0.351, "paddingOuter": 0.102}, "axis": null}}},
{"transform": [{"filter": "datum.series == 'Intermittent International'"}], "mark": {"type": "point", "shape": "square", "filled": true, "color": "#8DCBE0", "size": 70, "opacity": 1},
 "encoding": {"x": {"datum": 603}, "y": {"field": "series", "type": "nominal", "sort": null}}},
{"transform": [{"filter": "datum.series == 'Intermittent International'"}], "mark": {"type": "point", "shape": "M-1,-1L1,1M-1,1L1,-1", "filled": false, "color": "#31859C", "strokeWidth": 1.2, "size": 70, "opacity": 1},
 "encoding": {"x": {"datum": 603}, "y": {"field": "series", "type": "nominal", "sort": null}}},
{"transform": [{"filter": "datum.series == 'Intermittent Local'"}], "mark": {"type": "rule", "color": "#C3D69B", "strokeWidth": 3},
 "encoding": {"x": {"datum": 637}, "x2": {"datum": 667}, "y": {"field": "series", "type": "nominal", "sort": null}}},
{"transform": [{"filter": "datum.series == 'Drastic International'"}], "mark": {"type": "rule", "color": "#B3A2C7", "strokeWidth": 3},
 "encoding": {"x": {"datum": 618}, "x2": {"datum": 650}, "y": {"field": "series", "type": "nominal", "sort": null}}},
{"transform": [{"filter": "datum.series == 'Drastic International'"}], "mark": {"type": "point", "shape": "diamond", "filled": true, "color": "#B3A2C7", "size": 70, "opacity": 1},
 "encoding": {"x": {"datum": 633}, "y": {"field": "series", "type": "nominal", "sort": null}}},
{"transform": [{"filter": "datum.series == 'Drastic Local'"}], "mark": {"type": "rule", "color": "#D99694", "strokeWidth": 3},
 "encoding": {"x": {"datum": 665}, "x2": {"datum": 695}, "y": {"field": "series", "type": "nominal", "sort": null}}},
{"transform": [{"filter": "datum.series == 'Drastic Local'"}], "mark": {"type": "point", "shape": "square", "filled": true, "color": "#B84A47", "size": 90, "opacity": 1},
 "encoding": {"x": {"datum": 680}, "y": {"field": "series", "type": "nominal", "sort": null}}}
]
}
]
}
